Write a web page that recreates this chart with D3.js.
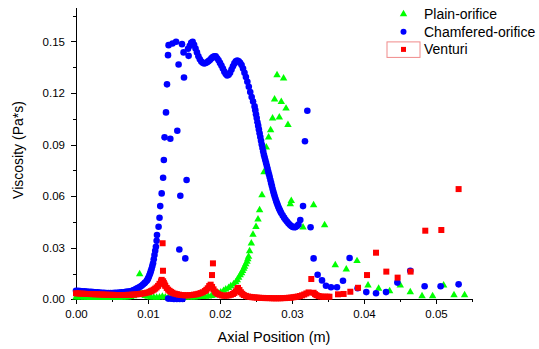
<!DOCTYPE html>
<html>
<head>
<meta charset="utf-8">
<script src="https://cdn.jsdelivr.net/npm/d3@7"></script>
<style>
  body { margin: 0; background: #fff; }
  svg { display: block; font-family: Arial, "Liberation Sans", sans-serif; }
  .axis text { font-size: 11.5px; fill: #000; }
  .axis path, .axis line { stroke: #000; shape-rendering: crispEdges; }
</style>
</head>
<body>
<div id="chart"></div>
<script>
// ---- data, [axial position m, viscosity Pa*s] ----
var seriesNames = ["Plain-orifice", "Chamfered-orifice", "Venturi"];

var xMajorTicks = [0, 0.01, 0.02, 0.03, 0.04, 0.05];
var xMinorTicks = [0.005, 0.015, 0.025, 0.035, 0.045, 0.055];
var yMajorTicks = [0, 0.03, 0.06, 0.09, 0.12, 0.15];
var yMinorTicks = [0.015, 0.045, 0.075, 0.105, 0.135, 0.165];

var plainBase = [
  [0.0000,0.0012],[0.0004,0.0011],[0.0008,0.0011],[0.0012,0.0010],[0.0016,0.0010],[0.0020,0.0009],
  [0.0024,0.0009],[0.0028,0.0009],[0.0032,0.0008],[0.0036,0.0008],[0.0040,0.0008],[0.0044,0.0008],
  [0.0048,0.0008],[0.0052,0.0008],[0.0056,0.0009],[0.0060,0.0009],[0.0064,0.0010],[0.0068,0.0011],
  [0.0072,0.0012],[0.0076,0.0014],[0.0080,0.0018],[0.0084,0.0026],[0.0088,0.0048],[0.0092,0.0030],
  [0.0096,0.0020],[0.0100,0.0015],[0.0104,0.0012],[0.0108,0.0011],[0.0112,0.0010],[0.0116,0.0012],
  [0.0120,0.0016],[0.0124,0.0012],[0.0128,0.0010],[0.0132,0.0009],[0.0136,0.0009],[0.0140,0.0009],
  [0.0144,0.0010],[0.0148,0.0010],[0.0152,0.0011],[0.0156,0.0011],[0.0160,0.0012],[0.0164,0.0012],
  [0.0168,0.0013],[0.0172,0.0014],[0.0176,0.0014],[0.0180,0.0015],[0.0184,0.0017],[0.0188,0.0020]
];
var plainRise = [
  [0.0191,0.0023],[0.0194,0.0028],[0.0198,0.0035],[0.0201,0.0041],[0.0205,0.0050],[0.0208,0.0058],
  [0.0212,0.0067],[0.0215,0.0077],[0.0219,0.0089],[0.0222,0.0100],[0.0224,0.0112],[0.0226,0.0126],
  [0.0228,0.0141],[0.0230,0.0153],[0.02314,0.0166],[0.0233,0.0178],[0.02342,0.0190],[0.02358,0.0205],
  [0.02375,0.0219],[0.02386,0.0234],[0.02397,0.0248],[0.02411,0.0281],[0.02435,0.0326],[0.02458,0.0376],
  [0.0250,0.0422],[0.02528,0.0465],[0.0255,0.0519],[0.02583,0.0606],[0.02611,0.0740],[0.02643,0.0884],
  [0.02675,0.0942],[0.02703,0.0984],[0.0273,0.1052],[0.02758,0.1163],[0.02792,0.1304],[0.02824,0.1058],
  [0.02851,0.1149],[0.02883,0.1285],[0.02917,0.1110],[0.02944,0.1015]
];
var plainScatter = [
  [0.00884,0.0147],[0.02976,0.0554],[0.0299,0.0573],[0.03153,0.0419],[0.0330,0.0548],[0.03453,0.0432],
  [0.03601,0.0199],[0.03754,0.0174],[0.03903,0.0223],[0.04056,0.0081],[0.04203,0.0062],[0.04356,0.0048],
  [0.04504,0.0081],[0.04643,0.0042],[0.04806,0.0019],[0.04953,0.0019],[0.05106,0.0081],[0.0525,0.0025],
  [0.05397,0.0025]
];

var chamferedBase = [
  [0.0000,0.0050],[0.0003,0.0049],[0.0006,0.0048],[0.0009,0.0047],[0.0012,0.0046],[0.0015,0.0045],
  [0.0018,0.0044],[0.0021,0.0043],[0.0024,0.0042],[0.0027,0.0041],[0.0030,0.0040],[0.0033,0.0039],
  [0.0036,0.0038],[0.0039,0.0038],[0.0042,0.0037],[0.0045,0.0037],[0.0048,0.0037],[0.0051,0.0037],
  [0.0054,0.0038],[0.0057,0.0038],[0.0060,0.0039],[0.0063,0.0040],[0.0066,0.0041],[0.0069,0.0043],
  [0.0072,0.0045],[0.0075,0.0047],[0.0078,0.0050]
];
var chamferedRise = [
  [0.0080,0.0054],[0.0083,0.0059],[0.0085,0.0064],[0.0087,0.0068],[0.0089,0.0073],[0.0091,0.0079],
  [0.0093,0.0086],[0.0095,0.0093],[0.0096,0.0098],[0.0098,0.0106],[0.0099,0.0112],[0.0100,0.0120],
  [0.0101,0.0130],[0.0102,0.0140],[0.0103,0.0151],[0.0104,0.0164],[0.0105,0.0178],[0.0106,0.0193],
  [0.0107,0.0210],[0.0108,0.0233],[0.0109,0.0258],[0.0110,0.0282],[0.0111,0.0306],[0.0112,0.0340],
  [0.01125,0.0374],[0.01147,0.0422],[0.0116,0.0474],[0.0117,0.0542],[0.0119,0.0616],[0.0121,0.0707]
];
var chamferedPlateau = [
  [0.0158,0.1475],[0.0160,0.1492],[0.0162,0.1497],[0.0164,0.1480],[0.0166,0.1458],[0.0168,0.1436],
  [0.0170,0.1414],[0.0172,0.1396],[0.0174,0.1383],[0.0176,0.1376],[0.0178,0.1372],[0.0180,0.1374],
  [0.0182,0.1379],[0.0184,0.1385],[0.0186,0.1392],[0.0188,0.1401],[0.0190,0.1409],[0.0192,0.1414],
  [0.0194,0.1413],[0.0196,0.1402],[0.0198,0.1390],[0.0200,0.1375],[0.0202,0.1360],[0.0204,0.1342],
  [0.0206,0.1324],[0.0208,0.1310],[0.0210,0.1302],[0.0212,0.1306],[0.0214,0.1318],[0.0216,0.1336],
  [0.0218,0.1355],[0.0220,0.1372],[0.0222,0.1384],[0.0224,0.1388],[0.0226,0.1384],[0.0228,0.1376],
  [0.0230,0.1362],[0.0232,0.1342],[0.0234,0.1318],[0.0236,0.1293],[0.0238,0.1265],[0.0240,0.1236],
  [0.0242,0.1206],[0.0244,0.1176]
];
var chamferedDescent = [
  [0.0246,0.1150],[0.0248,0.1122],[0.0249,0.1100],[0.0250,0.1076],[0.0251,0.1054],[0.0252,0.1030],
  [0.0253,0.1010],[0.0254,0.0988],[0.0255,0.0966],[0.0256,0.0944],[0.0257,0.0922],[0.0258,0.0900],
  [0.0259,0.0880],[0.0260,0.0860],[0.0261,0.0840],[0.0262,0.0824],[0.0263,0.0808],[0.0264,0.0792],
  [0.0265,0.0776],[0.0266,0.0760],[0.0267,0.0743],[0.0268,0.0727],[0.0269,0.0711],[0.0270,0.0694],
  [0.0271,0.0677],[0.0272,0.0660],[0.0273,0.0643],[0.0274,0.0627],[0.0275,0.0612],[0.0276,0.0598],
  [0.0277,0.0585],[0.0278,0.0572],[0.0279,0.0560],[0.0280,0.0549],[0.0281,0.0538],[0.0282,0.0528],
  [0.0283,0.0519],[0.0284,0.0510],[0.0285,0.0502],[0.0287,0.0488],[0.0289,0.0475],[0.0291,0.0463],
  [0.0293,0.0452],[0.0295,0.0442],[0.0297,0.0433],[0.0299,0.0426],[0.0301,0.0421],[0.0303,0.0419],
  [0.0305,0.0420],[0.0307,0.0426],[0.0309,0.0435]
];
var chamferedScatter = [
  [0.0122,0.0810],[0.0123,0.0942],[0.0125,0.1087],[0.01264,0.1250],[0.01278,0.1420],[0.01286,0.1478],
  [0.0131,0.0934],[0.0134,0.1488],[0.0139,0.1498],[0.01407,0.0980],[0.01425,0.1366],[0.01435,0.0290],
  [0.01449,0.0602],[0.01472,0.1484],[0.01494,0.1436],[0.0150,0.1290],[0.01518,0.0238],[0.01536,0.0694],
  [0.01556,0.1457],[0.01564,0.1416],
  [0.0128,0.0004],[0.0132,0.0003],[0.0136,0.0002],[0.0140,0.0002],[0.0144,0.0002],[0.0148,0.0002],
  [0.03115,0.0461],[0.03153,0.0542],[0.0318,0.0919],[0.03213,0.1097],[0.03258,0.0419],[0.0330,0.0238],
  [0.03356,0.0143],[0.03417,0.0110],[0.03472,0.0079],[0.03542,0.0070],[0.03625,0.0070],[0.03708,0.0108],
  [0.0380,0.0240],[0.03911,0.0064],[0.04032,0.0042],[0.04167,0.0035],[0.04306,0.0042],[0.04463,0.0097],
  [0.04643,0.0166],[0.04842,0.0076],[0.05064,0.0076],[0.05314,0.0087]
];

var venturiBase = [
  [0.0000,0.0035],[0.0003,0.0034],[0.0006,0.0033],[0.0009,0.0033],[0.0012,0.0032],[0.0015,0.0031],
  [0.0018,0.0031],[0.0021,0.0030],[0.0024,0.0030],[0.0027,0.0029],[0.0030,0.0029],[0.0033,0.0028],
  [0.0036,0.0028],[0.0039,0.0027],[0.0042,0.0027],[0.0045,0.0026],[0.0048,0.0026],[0.0051,0.0026],
  [0.0054,0.0025],[0.0057,0.0025],[0.0060,0.0025],[0.0063,0.0025],[0.0066,0.0025],[0.0069,0.0025],
  [0.0072,0.0026],[0.0075,0.0026],[0.0078,0.0027],[0.0081,0.0028],[0.0084,0.0029],[0.0087,0.0030],
  [0.0090,0.0032],[0.0093,0.0034],[0.0096,0.0036],[0.0099,0.0039],[0.0102,0.0043],[0.0104,0.0047],
  [0.0106,0.0051],[0.0108,0.0056],[0.0110,0.0062],[0.0112,0.0069],[0.0114,0.0078],[0.0116,0.0090],
  [0.0118,0.0104],[0.0119,0.0113],[0.0121,0.0105],[0.0122,0.0095],[0.0123,0.0086],[0.0124,0.0078],
  [0.0126,0.0066],[0.0128,0.0056],[0.0130,0.0049],[0.0132,0.0043],[0.0134,0.0038],[0.0137,0.0033],
  [0.0140,0.0030],[0.0143,0.0027],[0.0146,0.0025],[0.0149,0.0024],[0.0152,0.0023],[0.0155,0.0023],
  [0.0158,0.0024],[0.0161,0.0025],[0.0164,0.0027],[0.0167,0.0029],[0.0170,0.0032],[0.0173,0.0036],
  [0.0176,0.0041],[0.0179,0.0048],[0.0181,0.0055],[0.0183,0.0064],[0.0185,0.0077],[0.0187,0.0085],
  [0.0189,0.0072],[0.0191,0.0058],[0.0193,0.0045],[0.0195,0.0037],[0.0197,0.0031],[0.0200,0.0026],
  [0.0203,0.0022],[0.0206,0.0021],[0.0209,0.0021],[0.0212,0.0023],[0.0215,0.0026],[0.0218,0.0031],
  [0.0220,0.0037],[0.0222,0.0046],[0.0224,0.0058],[0.0225,0.0066],[0.0227,0.0054],[0.0229,0.0041],
  [0.0231,0.0032],[0.0233,0.0025],[0.0236,0.0020],[0.0239,0.0016],[0.0242,0.0014],[0.0245,0.0012],
  [0.0248,0.0011],[0.0251,0.0010],[0.0254,0.0009],[0.0257,0.0008],[0.0260,0.0008],[0.0263,0.0007],
  [0.0266,0.0007],[0.0269,0.0007],[0.0272,0.0006],[0.0275,0.0006],[0.0278,0.0006],[0.0281,0.0006],
  [0.0284,0.0006],[0.0287,0.0007],[0.0290,0.0007],[0.0293,0.0008],[0.0296,0.0009],[0.0299,0.0010],
  [0.0302,0.0012],[0.0305,0.0014],[0.0308,0.0016],[0.0311,0.0019],[0.0314,0.0023],[0.0317,0.0028],
  [0.0320,0.0034],[0.0323,0.0040],[0.0330,0.0038],[0.0332,0.0030],[0.0334,0.0024],[0.0337,0.0019],
  [0.0340,0.0016],[0.0343,0.0015],[0.0346,0.0015],[0.0349,0.0015],[0.0352,0.0015]
];
var venturiScatter = [
  [0.01203,0.0326],[0.01208,0.0166],[0.01889,0.0141],[0.01902,0.0209],[0.03268,0.0118],
  [0.03639,0.0029],[0.03717,0.0031],[0.0381,0.0044],[0.03917,0.0067],[0.04042,0.0141],[0.04167,0.0271],
  [0.0431,0.0161],[0.04467,0.0126],[0.04647,0.0161],[0.04851,0.0399],[0.05074,0.0403],[0.05314,0.0641]
];

// ---- layout ----
var width = 539, height = 349;
var margin = {left: 76, right: 67, top: 7, bottom: 49.7};

var svg = d3.select("#chart").append("svg")
    .attr("width", width)
    .attr("height", height);

var x = d3.scaleLinear()
    .domain([0, 0.055])
    .range([margin.left, width - margin.right]);
var y = d3.scaleLinear()
    .domain([0, 0.17])
    .range([height - margin.bottom, margin.top]);

// minor ticks first, then the main axes over them
svg.append("g")
    .attr("class", "axis")
    .attr("transform", "translate(0," + y(0) + ")")
    .call(d3.axisBottom(x).tickValues(xMinorTicks).tickSize(3).tickSizeOuter(0).tickFormat(""));
svg.append("g")
    .attr("class", "axis")
    .attr("transform", "translate(" + x(0) + ",0)")
    .call(d3.axisLeft(y).tickValues(yMinorTicks).tickSize(3).tickSizeOuter(0).tickFormat(""));

svg.append("g")
    .attr("class", "axis")
    .attr("transform", "translate(0," + y(0) + ")")
    .call(d3.axisBottom(x).tickValues(xMajorTicks).tickSize(5).tickSizeOuter(0).tickPadding(6).tickFormat(d3.format(".2f")));
svg.append("g")
    .attr("class", "axis")
    .attr("transform", "translate(" + x(0) + ",0)")
    .call(d3.axisLeft(y).tickValues(yMajorTicks).tickSize(5).tickSizeOuter(0).tickPadding(6).tickFormat(d3.format(".2f")));

svg.append("text")
    .attr("x", 274)
    .attr("y", 342)
    .attr("text-anchor", "middle")
    .style("font-size", "14.5px")
    .text("Axial Position (m)");

svg.append("text")
    .attr("transform", "translate(23,150) rotate(-90)")
    .attr("text-anchor", "middle")
    .style("font-size", "14px")
    .text("Viscosity (Pa*s)");

// ---- marks ----
var triangle = d3.symbol().type(d3.symbolTriangle).size(24);

function drawTriangles(data) {
  svg.append("g").selectAll("path")
      .data(data)
    .enter().append("path")
      .attr("d", triangle)
      .attr("transform", function(d) { return "translate(" + x(d[0]) + "," + y(d[1]) + ")"; })
      .attr("fill", "#00ff00");
}
function drawCircles(data) {
  svg.append("g").selectAll("circle")
      .data(data)
    .enter().append("circle")
      .attr("cx", function(d) { return x(d[0]); })
      .attr("cy", function(d) { return y(d[1]); })
      .attr("r", 3.3)
      .attr("fill", "#0000ff");
}
function drawSquares(data) {
  svg.append("g").selectAll("rect")
      .data(data)
    .enter().append("rect")
      .attr("x", function(d) { return x(d[0]) - 3; })
      .attr("y", function(d) { return y(d[1]) - 3; })
      .attr("width", 6)
      .attr("height", 6)
      .attr("fill", "#ff0000");
}

drawTriangles(plainBase);
drawTriangles(plainRise);
drawTriangles(plainScatter);
drawCircles(chamferedBase);
drawCircles(chamferedRise);
drawCircles(chamferedPlateau);
drawCircles(chamferedDescent);
drawCircles(chamferedScatter);
drawSquares(venturiBase);
drawSquares(venturiScatter);

// ---- legend ----
var legend = svg.append("g").attr("transform", "translate(403.5,14)");
var rowGap = 17.7;

legend.append("path")
    .attr("d", triangle)
    .attr("fill", "#00ff00");
legend.append("circle")
    .attr("cy", rowGap)
    .attr("r", 3)
    .attr("fill", "#0000ff");
legend.append("rect")
    .attr("x", -16.5)
    .attr("y", 2 * rowGap - 7.5)
    .attr("width", 33)
    .attr("height", 15.5)
    .attr("fill", "none")
    .attr("stroke", "#f08a8a");
legend.append("rect")
    .attr("x", -2.5)
    .attr("y", 2 * rowGap - 2.5)
    .attr("width", 5)
    .attr("height", 5)
    .attr("fill", "#ff0000");

legend.selectAll("text.lbl")
    .data(seriesNames)
  .enter().append("text")
    .attr("class", "lbl")
    .attr("x", 20.5)
    .attr("y", function(d, i) { return i * rowGap; })
    .attr("dy", "0.35em")
    .style("font-size", "14px")
    .text(function(d) { return d; });
</script>
</body>
</html>
